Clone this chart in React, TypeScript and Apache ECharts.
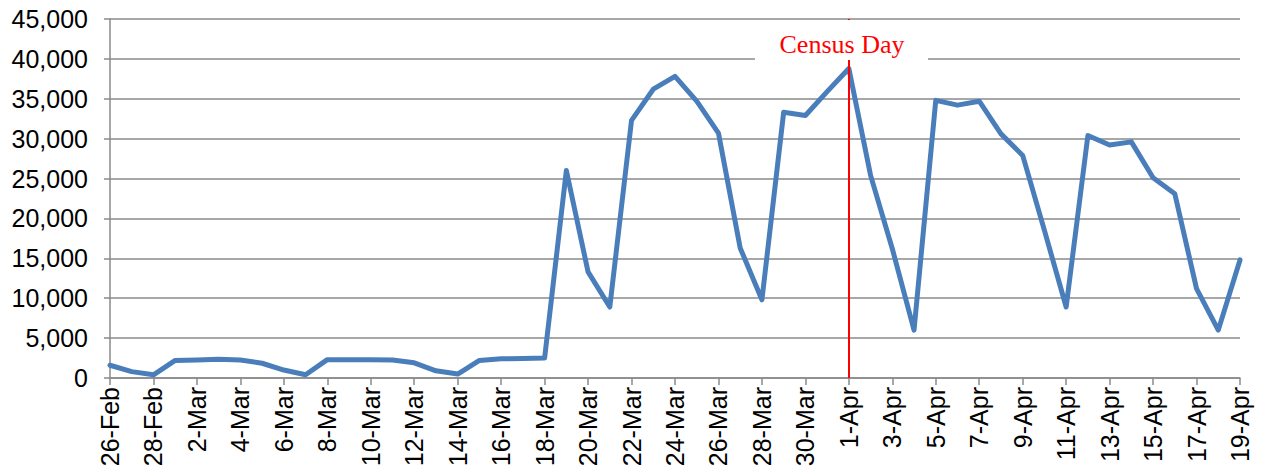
import React, { useEffect, useRef } from "react";
import * as echarts from "echarts";

const dates: string[] = [
  "26-Feb", "27-Feb", "28-Feb",
  "1-Mar", "2-Mar", "3-Mar", "4-Mar", "5-Mar", "6-Mar", "7-Mar", "8-Mar", "9-Mar", "10-Mar",
  "11-Mar", "12-Mar", "13-Mar", "14-Mar", "15-Mar", "16-Mar", "17-Mar", "18-Mar", "19-Mar", "20-Mar",
  "21-Mar", "22-Mar", "23-Mar", "24-Mar", "25-Mar", "26-Mar", "27-Mar", "28-Mar", "29-Mar", "30-Mar", "31-Mar",
  "1-Apr", "2-Apr", "3-Apr", "4-Apr", "5-Apr", "6-Apr", "7-Apr", "8-Apr", "9-Apr", "10-Apr",
  "11-Apr", "12-Apr", "13-Apr", "14-Apr", "15-Apr", "16-Apr", "17-Apr", "18-Apr", "19-Apr",
];

const values: number[] = [
  1600, 800, 400,
  2200, 2250, 2350, 2250, 1850, 1000, 400, 2300, 2300, 2300,
  2250, 1900, 900, 500, 2200, 2400, 2450, 2500, 26000, 13300,
  8900, 32300, 36200, 37800, 34700, 30700, 16300, 9800, 33300, 32900, 35900,
  38800, 25400, 16200, 6000, 34800, 34200, 34700, 30600, 27900, 18500,
  8900, 30400, 29200, 29600, 25100, 23100, 11200, 6000, 14800,
];

const censusDay = "1-Apr";
const censusLabel = "Census Day";

export default function App() {
  const ref = useRef<HTMLDivElement>(null);
  useEffect(() => {
    if (!ref.current) return;
    const chart = echarts.init(ref.current, undefined, { renderer: "svg" });
    const gray = "#8a8a8a";
    const font = "Liberation Sans";
    chart.setOption({
      animation: false,
      backgroundColor: "#ffffff",
      grid: { left: 110, right: 21, top: 19, bottom: 94, containLabel: false },
      xAxis: {
        type: "category",
        data: dates,
        boundaryGap: false,
        axisLine: { show: true, lineStyle: { color: gray, width: 1.5 } },
        axisTick: { show: true, interval: 1, length: 7, lineStyle: { color: gray, width: 1.5 } },
        axisLabel: {
          interval: 1,
          rotate: 90,
          fontSize: 25,
          fontFamily: font,
          color: "#000",
          margin: 9,
        },
        splitLine: { show: false },
      },
      yAxis: {
        type: "value",
        min: 0,
        max: 45000,
        interval: 5000,
        axisLine: { show: true, lineStyle: { color: gray, width: 1.5 } },
        axisTick: { show: true, length: 6, lineStyle: { color: gray, width: 1.5 } },
        axisLabel: {
          fontSize: 25,
          fontFamily: font,
          color: "#000",
          margin: 22,
          formatter: (v: number) => v.toLocaleString("en-US"),
        },
        splitLine: { show: true, lineStyle: { color: gray, width: 1.5 } },
      },
      series: [
        {
          type: "line",
          data: values,
          symbol: "none",
          lineStyle: { color: "#4a7ebb", width: 5, join: "round", cap: "round" },
          z: 3,
          markLine: {
            silent: true,
            symbol: "none",
            label: { show: false },
            lineStyle: { color: "#ff0000", width: 2, type: "solid" },
            data: [{ xAxis: censusDay }],
            z: 4,
          },
        },
      ],
      graphic: [
        {
          type: "rect",
          z: 100,
          shape: { x: 755, y: 20, width: 173, height: 40 },
          style: { fill: "#ffffff" },
        },
        {
          type: "text",
          z: 101,
          x: 842,
          y: 44,
          style: {
            text: censusLabel,
            fill: "#ff0000",
            font: '26px "Liberation Serif"',
            align: "center",
            verticalAlign: "middle",
          },
        },
      ],
    });
    return () => chart.dispose();
  }, []);
  return (
    <div
      ref={ref}
      style={{ position: "absolute", left: 0, top: 0, width: 1261, height: 472 }}
    />
  );
}
